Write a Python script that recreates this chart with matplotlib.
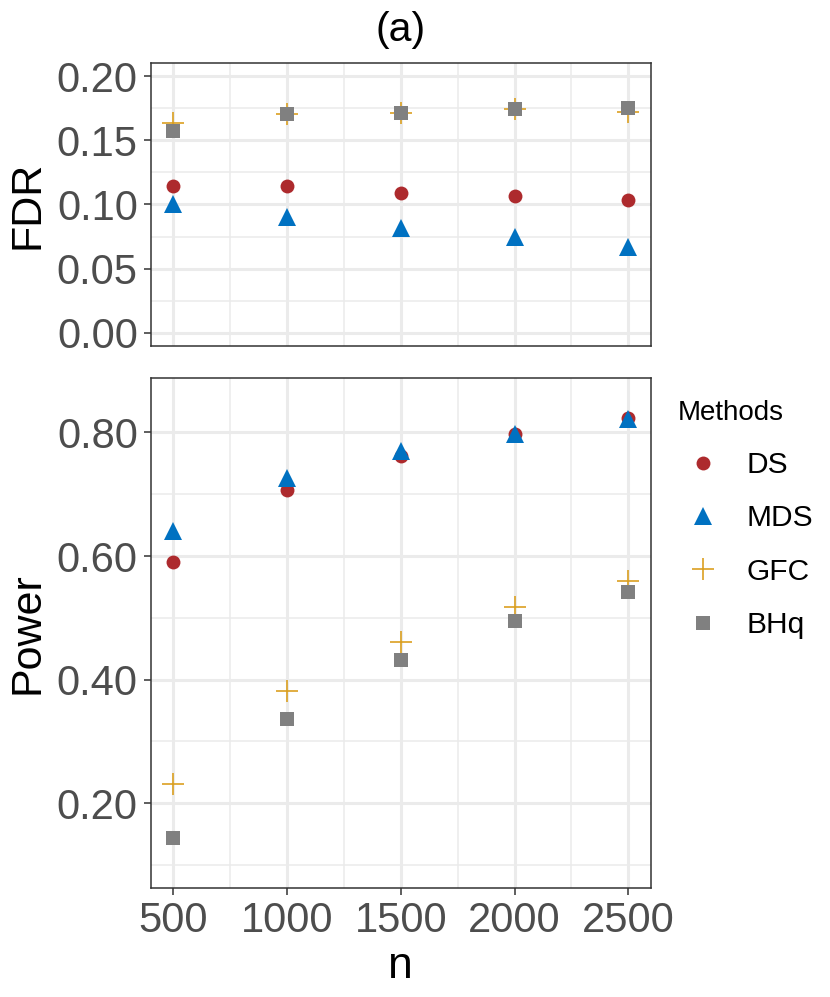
import matplotlib
matplotlib.use("Agg")
import matplotlib.pyplot as plt
from matplotlib.ticker import FixedLocator

plt.rcParams['font.family'] = ['Liberation Sans', 'DejaVu Sans']

n = [500, 1000, 1500, 2000, 2500]
methods = ["DS", "MDS", "GFC", "BHq"]

fdr_ds = [0.1147, 0.1147, 0.1093, 0.1064, 0.1033]
fdr_mds = [0.1000, 0.0900, 0.0815, 0.0750, 0.0670]
fdr_gfc = [0.1636, 0.1703, 0.1711, 0.1747, 0.1724]
fdr_bhq = [0.1569, 0.1706, 0.1716, 0.1747, 0.1752]

pow_ds = [0.591, 0.706, 0.761, 0.798, 0.823]
pow_mds = [0.641, 0.726, 0.770, 0.797, 0.821]
pow_gfc = [0.231, 0.381, 0.461, 0.518, 0.559]
pow_bhq = [0.1435, 0.336, 0.431, 0.4945, 0.542]

fdr_ticks = [0.00, 0.05, 0.10, 0.15, 0.20]
pow_ticks = [0.20, 0.40, 0.60, 0.80]

colors = {"DS": "#AD2A2D", "MDS": "#0071C1", "GFC": "#DBA021", "BHq": "#808080"}
markers = {"DS": "o", "MDS": "^", "GFC": "+", "BHq": "s"}
msizes = {"DS": 10, "MDS": 13.3, "GFC": 15.6, "BHq": 10}

W, H = 830, 997
fig = plt.figure(figsize=(W / 100, H / 100), dpi=100)

def fx(px):
    return px / W

def fy(py):
    return 1 - py / H

left, right = 150.7, 651
ax1 = fig.add_axes([fx(left), fy(345.7), (right - left) / W, (345.7 - 63.3) / H])
ax2 = fig.add_axes([fx(left), fy(888.3), (right - left) / W, (888.3 - 378.3) / H])

def style(ax, yticks, yminor, ylim, show_x):
    ax.set_xlim(400, 2600)
    ax.set_ylim(*ylim)
    ax.set_facecolor("white")
    ax.xaxis.set_major_locator(FixedLocator(n))
    ax.xaxis.set_minor_locator(FixedLocator([750, 1250, 1750, 2250]))
    ax.yaxis.set_major_locator(FixedLocator(yticks))
    ax.yaxis.set_minor_locator(FixedLocator(yminor))
    ax.set_yticklabels([f"{t:.2f}" for t in yticks])
    ax.grid(which="major", color="#EBEBEB", lw=2.2, zorder=0)
    ax.grid(which="minor", color="#EBEBEB", lw=1.1, zorder=0)
    ax.set_axisbelow(True)
    for s in ax.spines.values():
        s.set_color("#333333")
        s.set_linewidth(1.1)
    ax.tick_params(axis="y", which="major", length=5, width=1.1, color="#333333",
                   labelsize=30, labelcolor="#4D4D4D", pad=4.3)
    ax.tick_params(axis="y", which="minor", length=0)
    ax.tick_params(axis="x", which="minor", length=0)
    if show_x:
        ax.tick_params(axis="x", which="major", length=5, width=1.1, color="#333333",
                       labelsize=30, labelcolor="#4D4D4D", pad=4.5)
        ax.set_xticklabels([str(v) for v in n])
    else:
        ax.tick_params(axis="x", which="major", length=0, labelbottom=False)

style(ax1, fdr_ticks, [0.025, 0.075, 0.125, 0.175], (-0.01, 0.21), False)
style(ax2, pow_ticks, [0.1, 0.3, 0.5, 0.7], (0.0625, 0.8875), True)

fdr_vals = {"DS": fdr_ds, "MDS": fdr_mds, "GFC": fdr_gfc, "BHq": fdr_bhq}
pow_vals = {"DS": pow_ds, "MDS": pow_mds, "GFC": pow_gfc, "BHq": pow_bhq}

handles = []
for i, m in enumerate(methods):
    kw = dict(ls="none", marker=markers[m], ms=msizes[m], color=colors[m], zorder=3 + i)
    if m == "GFC":
        kw.update(mew=1.2)
    else:
        kw.update(mew=0)
    ax1.plot(n, fdr_vals[m], **kw)
    h, = ax2.plot(n, pow_vals[m], label=m, **kw)
    handles.append(h)

fig.text(27 / W, fy((63.3 + 345.7) / 2), "FDR", rotation=90, ha="center", va="center",
         fontsize=31, color="black")
fig.text(27 / W, fy((378.3 + 888.3) / 2), "Power", rotation=90, ha="center", va="center",
         fontsize=31, color="black")
fig.text(fx((left + right) / 2), fy(966), "n", ha="center", va="center", fontsize=32, color="black")
fig.text(fx((left + right) / 2), fy(30), "(a)", ha="center", va="center", fontsize=29.5, color="black")

leg = fig.legend(handles=handles, labels=methods, title="Methods", loc="upper left",
                 bbox_to_anchor=(fx(678), fy(400)), frameon=False, borderpad=0,
                 borderaxespad=0, fontsize=21.5, title_fontsize=20, handlelength=1.67,
                 handletextpad=0.63, labelspacing=0.85, alignment="left")
leg._legend_box.sep = 18

fig.savefig("out.png", dpi=100)
